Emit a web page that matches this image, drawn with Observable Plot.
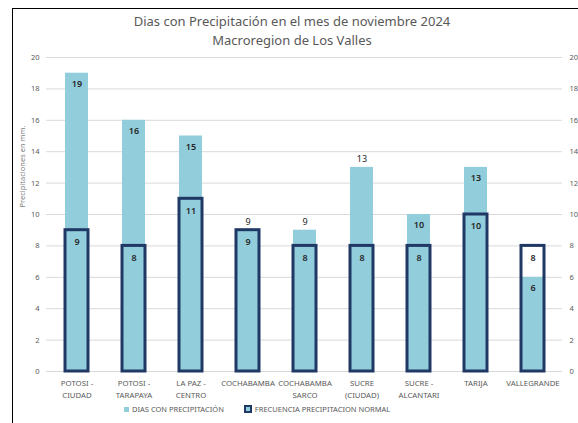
<!DOCTYPE html>
<html><head><meta charset="utf-8">
<script src="https://cdn.jsdelivr.net/npm/d3@7"></script>
<script src="https://cdn.jsdelivr.net/npm/@observablehq/plot@0.6"></script>
<style>
body{margin:0;background:#fff;width:578px;height:423px;overflow:hidden;position:relative;font-family:"Noto Sans",sans-serif;}
#frame{position:absolute;left:12px;top:8px;width:600px;height:420px;border-left:1.5px solid #000;border-top:1.5px solid #000;}
#title{position:absolute;left:0;width:584px;top:12px;text-align:center;color:#595959;font-size:13px;line-height:19px;}
#chart{position:absolute;left:0;top:47px;}
#legend{position:absolute;top:404px;left:124px;font-size:7.5px;color:#595959;white-space:nowrap;display:flex;align-items:center;}
.sw{display:inline-block;width:5px;height:5px;margin-right:3px;}
.sw1{background:#92CDDC;}
.sw2{width:4px;height:4px;border:2px solid #203864;background:#92CDDC;margin-left:20px;}
</style></head>
<body>
<div id="frame"></div>
<div id="title">Dias con Precipitación en el mes de noviembre 2024<br>Macroregion de Los Valles</div>
<div id="chart"></div>
<div id="legend"><span class="sw sw1"></span><span>DIAS CON PRECIPITACIÓN</span><span class="sw sw2"></span><span>FRECUENCIA PRECIPITACION NORMAL</span></div>
<script>
const categories = ["POTOSI -\nCIUDAD","POTOSI -\nTARAPAYA","LA PAZ -\nCENTRO","COCHABAMBA","COCHABAMBA\nSARCO","SUCRE\n(CIUDAD)","SUCRE -\nALCANTARI","TARIJA","VALLEGRANDE"];
const diasConPrecipitacion = [19,16,15,9,9,13,10,13,6];
const frecuenciaNormal = [9,8,11,9,8,8,8,10,8];
const yTicks = [0,2,4,6,8,10,12,14,16,18,20];
const yLabel = "Precipitaciones en mm.";
const labelsAbove = ["COCHABAMBA","COCHABAMBA\nSARCO","SUCRE\n(CIUDAD)"];

const data = categories.map((c,i)=>({cat:c, dias:diasConPrecipitacion[i], normal:frecuenciaNormal[i]}));

const chart = Plot.plot({
  width:578, height:355, marginLeft:46, marginRight:16, marginTop:10, marginBottom:31,
  style:{fontFamily:"'Noto Sans',sans-serif", fontSize:"7.5px", color:"#595959", background:"transparent", overflow:"visible"},
  x:{domain:categories, paddingInner:0.6, paddingOuter:0.3, label:null},
  y:{domain:[0,20], label:null},
  marks:[
    Plot.gridY(yTicks,{stroke:"#d9d9d9", strokeOpacity:1}),
    Plot.axisY(yTicks,{anchor:"left", tickSize:0, tickPadding:7, label:null}),
    Plot.axisY(yTicks,{anchor:"right", tickSize:0, tickPadding:7, label:null}),
    Plot.axisX({tickSize:0, tickPadding:6, lineHeight:1.5, fontSize:7.8, label:null}),
    Plot.barY(data,{x:"cat", y:"dias", fill:"#92CDDC"}),
    Plot.barY(data,{x:"cat", y:"normal", fill:"none", stroke:"#203864", strokeWidth:3}),
    Plot.text(data.filter(d=>!labelsAbove.includes(d.cat)),{x:"cat", y:"dias", text:"dias", dy:11, fontSize:9, fontWeight:600, fill:"#262626"}),
    Plot.text(data.filter(d=>labelsAbove.includes(d.cat)),{x:"cat", y:"dias", text:"dias", dy:-8, fontSize:9, fill:"#262626"}),
    Plot.text(data,{x:"cat", y:"normal", text:"normal", dy:12, fontSize:9, fontWeight:600, fill:"#262626"}),
    Plot.text([yLabel],{frameAnchor:"left", dx:-24, dy:-7, rotate:-90, fontSize:7.5, fill:"#7f7f7f"})
  ]
});
document.getElementById("chart").appendChild(chart);
</script>
</body></html>
